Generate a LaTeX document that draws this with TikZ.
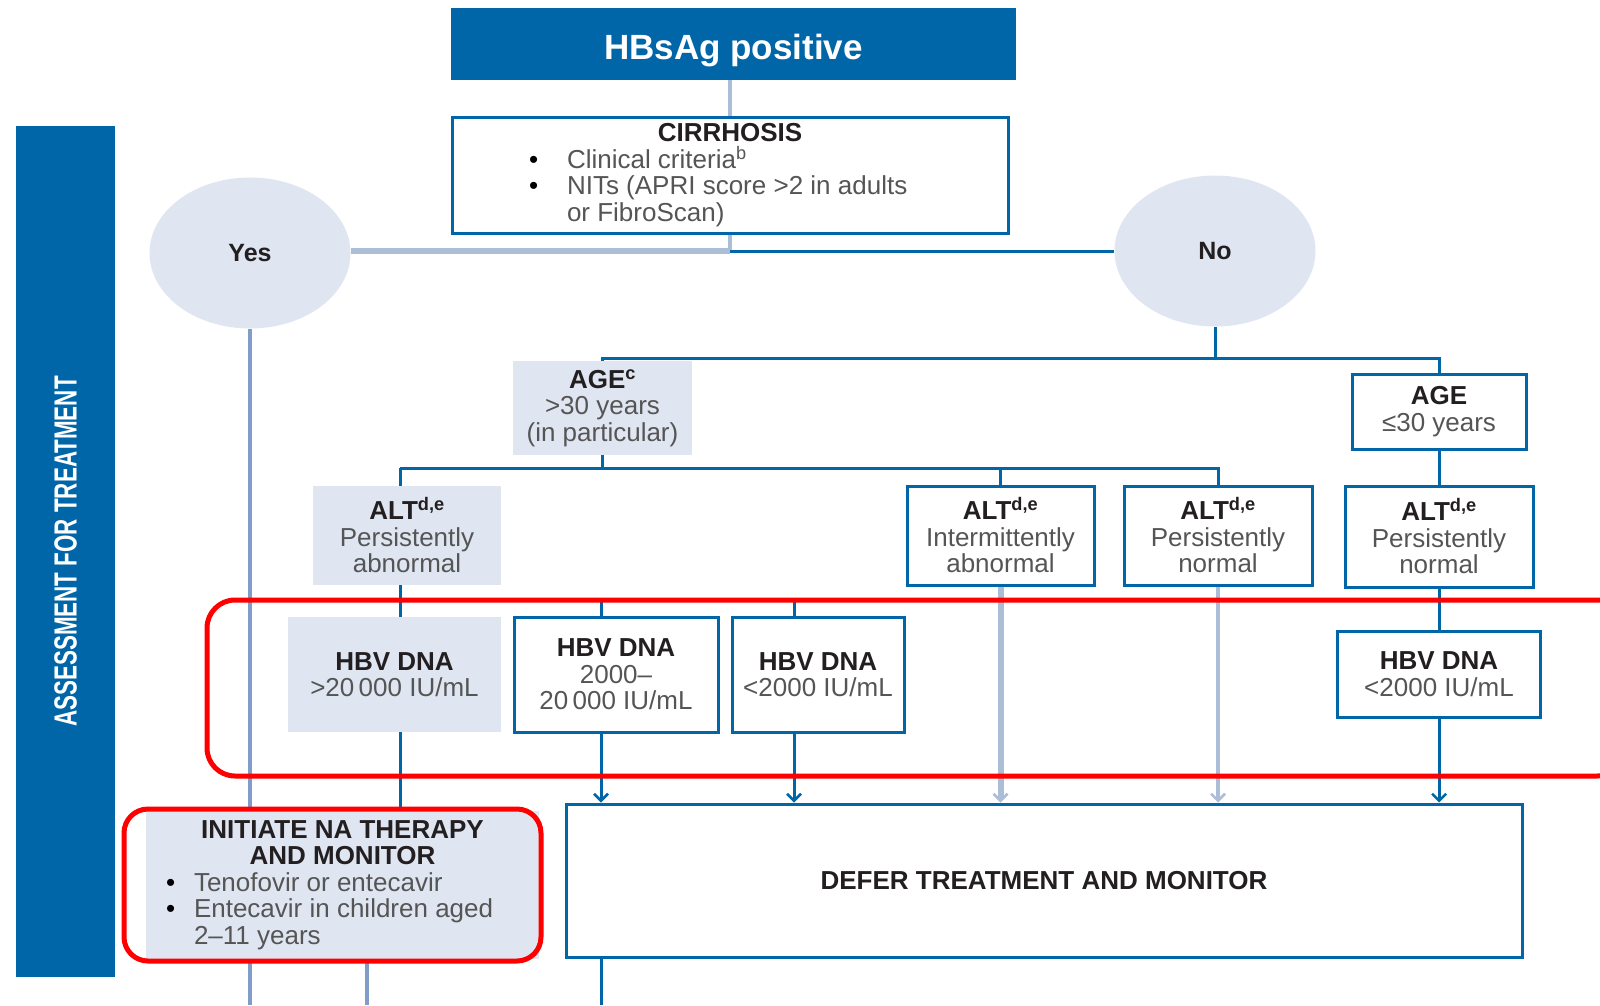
\documentclass[tikz,border=0pt]{standalone}
\usepackage{fontspec}
\setmainfont{Liberation Sans}
\newfontfamily\condfont[FakeStretch=0.7]{Liberation Sans}
\usepackage{xcolor}
\usepackage{tikz}
\usetikzlibrary{arrows.meta,positioning,shapes.geometric}
\definecolor{hbblue}{RGB}{0,102,168}
\definecolor{hblight}{RGB}{223,230,242}
\definecolor{hbgrey}{RGB}{172,189,216}
\definecolor{hbmid}{RGB}{128,157,200}
\definecolor{hbtext}{RGB}{35,31,32}
\definecolor{hbbody}{RGB}{85,85,85}
\definecolor{markred}{RGB}{255,0,0}
\newcommand{\hd}[1]{{\bfseries\color{hbtext}#1}}

\begin{document}
\begin{tikzpicture}[x=1pt, y=-1pt,
  every node/.style={font=\fontsize{26}{26.5}\selectfont, text=hbbody, align=center, inner sep=0pt},
  topbox/.style={rectangle, fill=hbblue, text=white, font=\bfseries\fontsize{35}{35}\selectfont},
  framebox/.style={rectangle, draw=hbblue, line width=3pt, fill=white},
  shadebox/.style={rectangle, fill=hblight},
  bubble/.style={ellipse, fill=hblight, minimum width=201, minimum height=151,
                 font=\bfseries\fontsize{25}{25}\selectfont, text=hbtext},
  darkln/.style={draw=hbblue, line width=3pt},
  lightln/.style={draw=hbgrey, line width=4pt},
  thickln/.style={draw=hbgrey, line width=6pt},
  midln/.style={draw=hbmid, line width=3.5pt},
  arr/.style={-{Straight Barb[length=7pt, width=14pt, line width=2.5pt]}},
  redmark/.style={draw=markred, line width=5pt, rounded corners=28pt},
]
\path[use as bounding box, fill=white] (0,0) rectangle (1600,1005);

% side bar
\node[fill=hbblue, minimum width=851, minimum height=99, rotate=90, text=white,
      font=\condfont\bfseries\fontsize{32}{32}\selectfont] (side) at (65.5,551.5) {ASSESSMENT FOR TREATMENT};

% top of the tree
\node[topbox, minimum width=565, minimum height=72] (hbsag) at (733.5,44) {\raisebox{-15pt}[0pt][0pt]{HBsAg positive}};
\node[framebox, minimum width=556, minimum height=116] (cirr) at (730,175) {%
  \begin{minipage}{556pt}\centering\hd{CIRRHOSIS}\par\raggedright\leftskip=77pt
  \makebox[38pt][l]{\color{black}\textbullet}Clinical criteria\textsuperscript{b}\\
  \makebox[38pt][l]{\color{black}\textbullet}NITs (APRI score >2 in adults\\
  \hspace*{38pt}or FibroScan)\end{minipage}};
\node[bubble] (yes) at (250,253) {Yes};
\node[bubble] (no) at (1215,251) {No};

% age
\node[shadebox, minimum width=179, minimum height=94] (age1) at (602.5,408) {\hd{AGE\textsuperscript{c}}\\>30 years\\(in particular)};
\node[framebox, minimum width=174, minimum height=75] (age2) at (1439,411.5) {\hd{AGE}\\≤30 years};

% ALT
\node[shadebox, minimum width=188, minimum height=99] (alt1) at (407,535.5) {\hd{ALT\textsuperscript{d,e}}\\Persistently\\abnormal};
\node[framebox, minimum width=187, minimum height=99] (alt2) at (1000.5,535.5) {\hd{ALT\textsuperscript{d,e}}\\Intermittently\\abnormal};
\node[framebox, minimum width=188, minimum height=99] (alt3) at (1218,535.5) {\hd{ALT\textsuperscript{d,e}}\\Persistently\\normal};
\node[framebox, minimum width=188, minimum height=101] (alt4) at (1439,536.5) {\hd{ALT\textsuperscript{d,e}}\\Persistently\\normal};

% HBV DNA
\node[shadebox, minimum width=213, minimum height=115] (hbv1) at (394.5,674.5) {\hd{HBV DNA}\\>20\,000 IU/mL};
\node[framebox, minimum width=204, minimum height=115] (hbv2) at (616,674.5) {\hd{HBV DNA}\\2000–\\20\,000 IU/mL};
\node[framebox, minimum width=172, minimum height=115] (hbv3) at (818,674.5) {\hd{HBV DNA}\\<2000 IU/mL};
\node[framebox, minimum width=203, minimum height=86] (hbv4) at (1439,674) {\hd{HBV DNA}\\<2000 IU/mL};

% outcomes
\node[shadebox, minimum width=393, minimum height=148] (init) at (342.5,885) {%
  \begin{minipage}{393pt}\centering\hd{INITIATE NA THERAPY\\AND MONITOR}\par\raggedright\leftskip=20pt
  \makebox[28pt][l]{\color{black}\textbullet}Tenofovir or entecavir\\
  \makebox[28pt][l]{\color{black}\textbullet}Entecavir in children aged\\
  \hspace*{28pt}2–11 years\end{minipage}};
\node[framebox, minimum width=956, minimum height=153] (defer) at (1044,880.5) {\hd{DEFER TREATMENT AND MONITOR}};

\coordinate (j1) at (730,251);
\coordinate (j2) at (1218,358);
\coordinate (j3) at (400,468);
\coordinate (s2) at (601,600);
\coordinate (s3) at (794,600);
\coordinate (bot) at (367,1005);

\draw[lightln] (hbsag.south -| cirr.north) -- (cirr.north);
\draw[lightln] (cirr.south) -- (j1);
\draw[thickln] (j1) -- (j1 -| yes.east);
\draw[darkln] (j1) -- (j1 -| no.west);
\draw[darkln] (no.south) -- (no.south |- j2);
\draw[darkln] (age1.north) -- (age1.north |- j2) -| (age2.north);
\draw[darkln] (age1.south) -- (age1.south |- j3);
\draw[darkln] (j3) -- (j3 |- alt1.north);
\draw[darkln] (j3) -| (alt3.north);
\draw[darkln] (alt2.north) -- (alt2.north |- j3);
\draw[darkln] (age2.south) -- (alt4.north);
\draw[darkln] (j3 |- alt1.south) -- (j3 |- hbv1.north);
\draw[darkln] (alt4.south) -- (hbv4.north);
\draw[darkln] (s2) -- (s2 |- hbv2.north);
\draw[darkln] (s3) -- (s3 |- hbv3.north);
\draw[darkln] (j3 |- hbv1.south) -- (j3 |- init.north);
\draw[darkln, arr] (s2 |- hbv2.south) -- (s2 |- defer.north);
\draw[darkln, arr] (s3 |- hbv3.south) -- (s3 |- defer.north);
\draw[darkln, arr] (hbv4.south) -- (hbv4.south |- defer.north);
\draw[thickln, arr] (alt2.south) -- (alt2.south |- defer.north);
\draw[lightln, arr] (alt3.south) -- (alt3.south |- defer.north);
\draw[midln] (yes.south) -- (yes.south |- init.north);
\draw[midln] (yes.south |- init.south) -- (yes.south |- bot);
\draw[midln] (bot |- init.south) -- (bot);
\draw[darkln] (s2 |- defer.south) -- (s2 |- bot);

% highlights
\draw[redmark] (207,600) rectangle (1625,776);
\draw[redmark, rounded corners=24pt] (124,809) rectangle (541,961);
\end{tikzpicture}
\end{document}
